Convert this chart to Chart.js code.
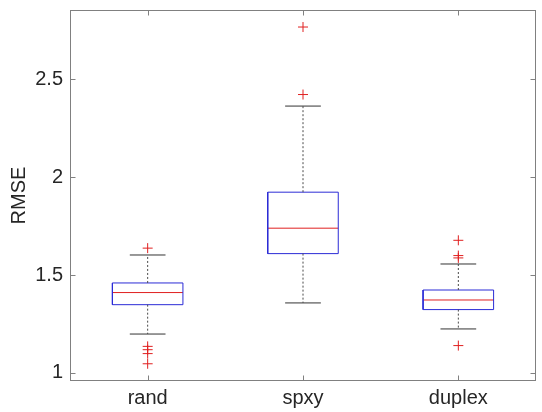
<!DOCTYPE html>
<html>
<head>
<meta charset="utf-8">
<script src="https://cdn.jsdelivr.net/npm/chart.js@4"></script>
<style>
  html, body { margin: 0; padding: 0; background: #fff; }
  #wrap { width: 542px; height: 412px; }
</style>
</head>
<body>
<div id="wrap"><canvas id="rmseBox"></canvas></div>
<script>
// boxplot stats
const groups = ['rand', 'spxy', 'duplex'];
const whiskerLow = [1.199, 1.358, 1.225];
const q1 = [1.349, 1.610, 1.324];
const medians = [1.411, 1.740, 1.373];
const q3 = [1.460, 1.924, 1.424];
const whiskerHigh = [1.603, 2.364, 1.557];
const randOutliers = [1.638, 1.136, 1.119, 1.099, 1.047];
const spxyOutliers = [2.768, 2.423];
const duplexOutliers = [1.678, 1.600, 1.588, 1.140];
const yTicks = [1, 1.5, 2, 2.5];
const yRange = [0.959, 2.855];

const BOX_HALF = 0.227;
const CAP_HALF = 0.115;
const textColor = '#262626';
const axisFont = { family: 'Liberation Sans, Arial, sans-serif', size: 20 };

// turn [x1,y1,x2,y2] segments into one polyline with gaps
function toPath(segments) {
  const pts = [];
  segments.forEach(s => {
    for (let i = 0; i < s.length; i += 2) pts.push({ x: s[i], y: s[i + 1] });
    pts.push({ x: s[s.length - 2], y: null });
  });
  return pts;
}

const boxSegs = [], medianSegs = [], whiskerSegs = [], capSegs = [];
groups.forEach((g, i) => {
  const x = i + 1;
  boxSegs.push([x - BOX_HALF, q1[i], x + BOX_HALF, q1[i], x + BOX_HALF, q3[i], x - BOX_HALF, q3[i], x - BOX_HALF, q1[i]]);
  medianSegs.push([x - BOX_HALF, medians[i], x + BOX_HALF, medians[i]]);
  whiskerSegs.push([x, q3[i], x, whiskerHigh[i]]);
  whiskerSegs.push([x, q1[i], x, whiskerLow[i]]);
  capSegs.push([x - CAP_HALF, whiskerHigh[i], x + CAP_HALF, whiskerHigh[i]]);
  capSegs.push([x - CAP_HALF, whiskerLow[i], x + CAP_HALF, whiskerLow[i]]);
});

const outlierPts = [];
[randOutliers, spxyOutliers, duplexOutliers].forEach((arr, i) => {
  arr.forEach(v => outlierPts.push({ x: i + 1, y: v }));
});

function lineSet(data, color, dash) {
  return {
    data: data,
    borderColor: color,
    borderWidth: 1,
    borderDash: dash || [],
    pointRadius: 0,
    fill: false,
    tension: 0,
    spanGaps: false
  };
}

// MATLAB style frame with inward ticks on all four sides
const framePlugin = {
  id: 'frame',
  afterDraw(chart) {
    const { ctx, chartArea: a, scales } = chart;
    const L = Math.round(a.left) + 0.5, R = Math.round(a.right) - 0.5;
    const T = Math.round(a.top) + 0.5, B = Math.round(a.bottom) - 0.5;
    ctx.save();
    ctx.strokeStyle = '#808080';
    ctx.lineWidth = 1;
    ctx.strokeRect(L, T, R - L, B - T);
    ctx.beginPath();
    scales.y.ticks.forEach(t => {
      const py = Math.round(scales.y.getPixelForValue(t.value)) + 0.5;
      ctx.moveTo(L, py); ctx.lineTo(L + 5, py);
      ctx.moveTo(R, py); ctx.lineTo(R - 5, py);
    });
    scales.x.ticks.forEach(t => {
      const px = Math.round(scales.x.getPixelForValue(t.value)) + 0.5;
      ctx.moveTo(px, B); ctx.lineTo(px, B - 5);
      ctx.moveTo(px, T); ctx.lineTo(px, T + 5);
    });
    ctx.stroke();
    ctx.restore();
  }
};

new Chart(document.getElementById('rmseBox'), {
  type: 'line',
  data: {
    datasets: [
      lineSet(toPath(whiskerSegs), '#4a4a4a', [2, 2]),
      lineSet(toPath(capSegs), '#333333'),
      lineSet(toPath(boxSegs), '#2b2bd6'),
      lineSet(toPath(medianSegs), '#e02020'),
      {
        data: outlierPts,
        showLine: false,
        pointStyle: 'cross',
        pointRadius: 5,
        borderColor: '#e02020',
        borderWidth: 1
      }
    ]
  },
  options: {
    responsive: true,
    maintainAspectRatio: false,
    animation: false,
    layout: { padding: { top: 10, right: 2, left: 0, bottom: 0 } },
    plugins: { legend: { display: false }, tooltip: { enabled: false } },
    scales: {
      x: {
        type: 'linear',
        min: 0.5,
        max: 3.5,
        grid: { display: false, drawTicks: false },
        border: { display: false },
        afterBuildTicks: s => { s.ticks = groups.map((g, i) => ({ value: i + 1 })); },
        afterFit: s => { s.height = 31; s.paddingLeft = 0; s.paddingRight = 0; },
        ticks: {
          callback: v => groups[Math.round(v) - 1],
          color: textColor,
          font: axisFont,
          padding: 5,
          maxRotation: 0,
          autoSkip: false
        }
      },
      y: {
        min: yRange[0],
        max: yRange[1],
        grid: { display: false, drawTicks: false },
        border: { display: false },
        afterBuildTicks: s => { s.ticks = yTicks.map(v => ({ value: v })); },
        afterFit: s => { s.width = 70; s.paddingTop = 0; s.paddingBottom = 0; },
        ticks: {
          callback: v => String(v),
          color: textColor,
          font: axisFont,
          padding: 7
        },
        title: {
          display: true,
          text: 'RMSE',
          color: textColor,
          font: axisFont,
          padding: { top: 7, bottom: 0 }
        }
      }
    }
  },
  plugins: [framePlugin]
});
</script>
</body>
</html>
